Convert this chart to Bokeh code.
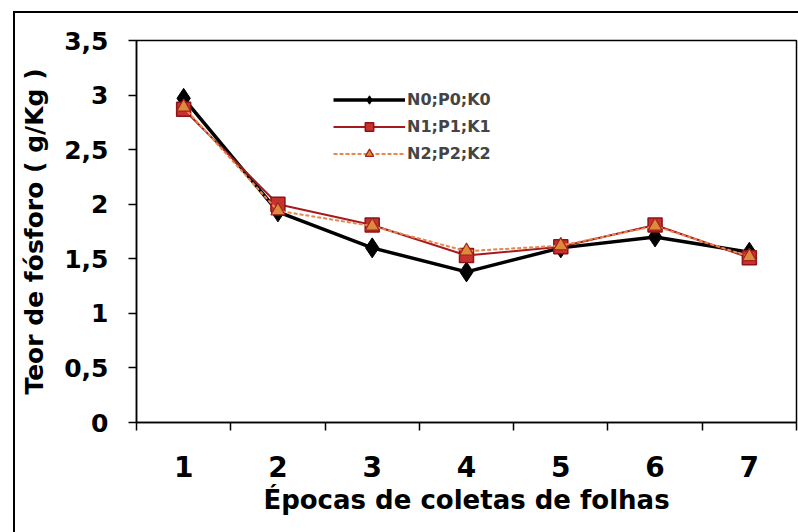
from bokeh.plotting import figure
from bokeh.models import Range1d, FixedTicker, Legend, LegendItem
from bokeh.embed import file_html
from bokeh.resources import INLINE

epocas = [1, 2, 3, 4, 5, 6, 7]
tick_labels = ["1", "2", "3", "4", "5", "6", "7"]
n0p0k0 = [2.97, 1.93, 1.60, 1.38, 1.60, 1.70, 1.56]
n1p1k1 = [2.87, 2.00, 1.81, 1.53, 1.61, 1.81, 1.51]
n2p2k2 = [2.89, 1.94, 1.80, 1.57, 1.62, 1.80, 1.52]
y_ticks = [0, 0.5, 1, 1.5, 2, 2.5, 3, 3.5]
y_tick_labels = ["0", "0,5", "1", "1,5", "2", "2,5", "3", "3,5"]

FONT = "DejaVu Sans"

p = figure(width=798, height=532, output_backend="svg", toolbar_location=None,
           x_range=Range1d(0.5, 7.5), y_range=Range1d(0, 3.5),
           min_border_left=136, min_border_right=2, min_border_top=40,
           min_border_bottom=110)
p.background_fill_color = "white"
p.border_fill_alpha = 0
# outer chart frame (left and top edges; the rest lies outside the picture)
p.styles = {
    "background-color": "white",
    "background-image": "linear-gradient(#000, #000), linear-gradient(#000, #000)",
    "background-size": "2px 100%, 100% 2px",
    "background-position": "13px 11px, 13px 11px",
    "background-repeat": "no-repeat",
}
p.outline_line_color = "black"
p.outline_line_width = 1.5
p.xgrid.visible = False
p.ygrid.visible = False

# x axis
p.xaxis.ticker = FixedTicker(ticks=epocas, minor_ticks=[e - 0.5 for e in epocas] + [epocas[-1] + 0.5])
p.xaxis.major_label_overrides = {e: l for e, l in zip(epocas, tick_labels)}
p.xaxis.major_tick_out = 0
p.xaxis.major_tick_in = 0
p.xaxis.minor_tick_out = 8
p.xaxis.minor_tick_in = 0
p.xaxis.minor_tick_line_color = "black"
p.xaxis.minor_tick_line_width = 1.5
p.xaxis.axis_line_width = 1.5
p.xaxis.major_label_standoff = 25
p.xaxis.major_label_text_font = FONT
p.xaxis.major_label_text_font_style = "bold"
p.xaxis.major_label_text_font_size = "28px"
p.xaxis.major_label_text_color = "black"
p.xaxis.axis_label = "Épocas de coletas de folhas"
p.xaxis.axis_label_text_font = FONT
p.xaxis.axis_label_text_font_style = "bold"
p.xaxis.axis_label_text_font_size = "26px"
p.xaxis.axis_label_text_color = "black"
p.xaxis.axis_label_standoff = 5

# y axis
p.yaxis.ticker = FixedTicker(ticks=y_ticks, minor_ticks=[])
p.yaxis.major_label_overrides = {t: l for t, l in zip(y_ticks, y_tick_labels)}
p.yaxis.major_tick_out = 8
p.yaxis.major_tick_in = 0
p.yaxis.major_tick_line_width = 1.5
p.yaxis.axis_line_width = 1.5
p.yaxis.major_label_standoff = 20
p.yaxis.major_label_text_font = FONT
p.yaxis.major_label_text_font_style = "bold"
p.yaxis.major_label_text_font_size = "25px"
p.yaxis.major_label_text_color = "black"
p.yaxis.axis_label = "Teor de fósforo ( g/Kg )"
p.yaxis.axis_label_text_font = FONT
p.yaxis.axis_label_text_font_style = "bold"
p.yaxis.axis_label_text_font_size = "25px"
p.yaxis.axis_label_text_color = "black"
p.yaxis.axis_label_standoff = 12

# series
l0 = p.line(epocas, n0p0k0, line_color="black", line_width=3.5)
s0 = p.scatter(epocas, n0p0k0, marker="diamond", size=20, fill_color="black", line_color="black")
l1 = p.line(epocas, n1p1k1, line_color="#a8191e", line_width=2)
s1 = p.scatter(epocas, n1p1k1, marker="square", size=14, fill_color="#c8322e", line_color="#8a1418", line_width=1.5)
l2 = p.line(epocas, n2p2k2, line_color="#e6874e", line_width=2, line_dash="4 2")
s2 = p.scatter(epocas, n2p2k2, marker="triangle", size=14, fill_color="#dd8a3c", line_color="#a3231c", line_width=1.2)

legend = Legend(items=[
    LegendItem(label="N0;P0;K0", renderers=[l0, s0]),
    LegendItem(label="N1;P1;K1", renderers=[l1, s1]),
    LegendItem(label="N2;P2;K2", renderers=[l2, s2]),
], location=(193, 254))
legend.label_text_font = FONT
legend.label_text_font_style = "bold"
legend.label_text_font_size = "16px"
legend.glyph_width = 72
legend.glyph_height = 21
legend.label_height = 21
legend.spacing = 6
legend.padding = 4
legend.label_standoff = 2
legend.border_line_alpha = 0
legend.background_fill_alpha = 0
p.add_layout(legend)

open("out.html", "w").write(file_html(p, INLINE))
